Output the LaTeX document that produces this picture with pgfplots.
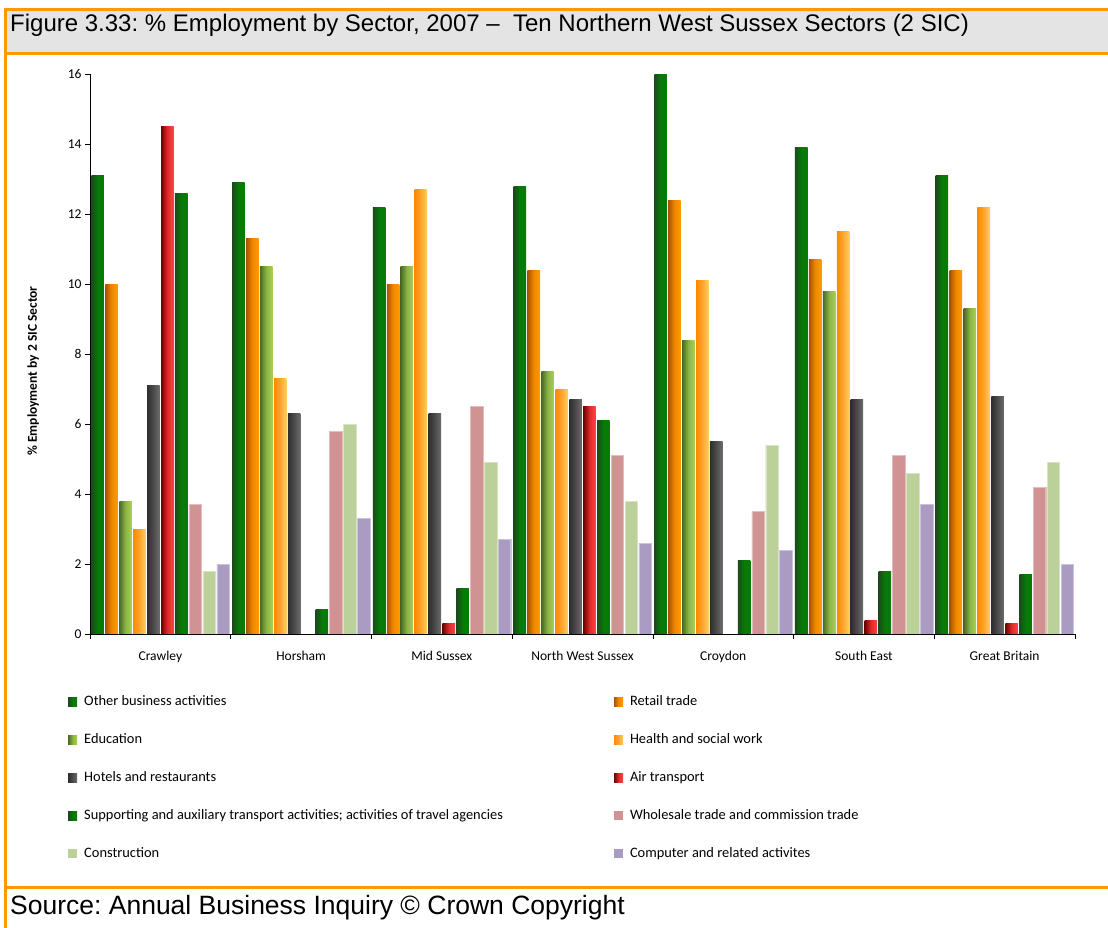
\documentclass[border=0pt]{standalone}
\usepackage{fontspec}
\setmainfont{Carlito}
\newfontfamily\arial{Liberation Sans}
\usepackage{pgfplots}
\usepackage{pgfplotstable}
\pgfplotsset{compat=1.18}
\frenchspacing
\definecolor{frameorange}{HTML}{FF9900}
\definecolor{titlegray}{HTML}{E4E4E4}
\definecolor{gA}{HTML}{1C4A1C}
\definecolor{gB}{HTML}{077A07}
\definecolor{oA}{HTML}{A85400}
\definecolor{oM}{HTML}{F08800}
\definecolor{oB}{HTML}{FF9A00}
\definecolor{eA}{HTML}{4A6A24}
\definecolor{eM}{HTML}{8CB545}
\definecolor{eB}{HTML}{A9CF55}
\definecolor{hA}{HTML}{FF8A00}
\definecolor{hM}{HTML}{FFA430}
\definecolor{hB}{HTML}{FFD060}
\definecolor{kA}{HTML}{2E2E2E}
\definecolor{kM}{HTML}{4C4C4C}
\definecolor{kB}{HTML}{6C6C6C}
\definecolor{rA}{HTML}{6E0000}
\definecolor{rM}{HTML}{E02A2A}
\definecolor{rB}{HTML}{FF4545}
\definecolor{wC}{HTML}{D09292}
\definecolor{cC}{HTML}{BCD19A}
\definecolor{pC}{HTML}{A99BC1}

\pgfplotstableread{
x   oba  ret  edu  hea  hot  air  sup  who  con  com
0.5 13.1 10.0 3.8  3.0  7.1  14.5 12.6 3.7  1.8  2.0
1.5 12.9 11.3 10.5 7.3  6.3  nan  0.7  5.8  6.0  3.3
2.5 12.2 10.0 10.5 12.7 6.3  0.3  1.3  6.5  4.9  2.7
3.5 12.8 10.4 7.5  7.0  6.7  6.5  6.1  5.1  3.8  2.6
4.5 16.0 12.4 8.4  10.1 5.5  nan  2.1  3.5  5.4  2.4
5.5 13.9 10.7 9.8  11.5 6.7  0.4  1.8  5.1  4.6  3.7
6.5 13.1 10.4 9.3  12.2 6.8  0.3  1.7  4.2  4.9  2.0
}\datatable

% one shaded bar per plot so that each bar carries its own gradient
% #6 = list of groups that have a bar
\newcommand{\gradbars}[6]{%
  \pgfplotsinvokeforeach{#6}{%
    \addplot[forget plot, draw=none, bar shift=#2, left color=#3, right color=#5, middle color=#4,
      restrict x to domain=##1.4:##1.6] table[x=x,y=#1]{\datatable};
  }%
}

\begin{document}
\begin{tikzpicture}[x=1pt,y=1pt]
\path[use as bounding box] (0,0) rectangle (1108,-928);
\fill[titlegray] (7,-11) rectangle (1108,-52);
\fill[frameorange] (4,-8) rectangle (1108,-11);
\fill[frameorange] (4,-52) rectangle (1108,-55);
\fill[frameorange] (4,-886) rectangle (1108,-889);
\fill[frameorange] (4,-8) rectangle (7,-928);
\node[anchor=base west, inner sep=0pt, font=\arial\fontsize{24}{26}\selectfont] at (10,-32) {Figure 3.33: \% Employment by Sector, 2007 –\ \ Ten Northern West Sussex Sectors (2 SIC)};
\node[anchor=base west, inner sep=0pt, font=\arial\fontsize{26.5}{29}\selectfont] at (10,-914) {Source: Annual Business Inquiry © Crown Copyright};

\begin{axis}[
  at={(90pt,-634pt)}, anchor=south west,
  scale only axis, width=985pt, height=560pt,
  xmin=0, xmax=7, ymin=0, ymax=16,
  axis on top,
  axis x line=bottom, axis y line=left,
  axis line style={-, black, line width=0.9pt},
  xtick={0.5,1.5,...,6.5},
  xticklabels={Crawley,Horsham,Mid Sussex,North West Sussex,Croydon,South East,Great Britain},
  major x tick style={draw=none},
  minor xtick={0,1,...,7},
  ytick={0,2,...,16},
  tick align=outside,
  tick style={black, line width=0.7pt},
  major tick length=5pt, minor tick length=5pt,
  ticklabel style={font=\fontsize{13.5}{15}\selectfont},
  xticklabel style={yshift=-9pt},
  /pgf/number format/assume math mode=true,
  ylabel={\% Employment by 2 SIC Sector},
  ylabel style={font=\bfseries\fontsize{13.5}{15}\selectfont, yshift=22pt, xshift=-17pt},
  ybar, bar width=0.089,
  legend columns=2,
  legend cell align=left,
  legend style={draw=none, fill=none, at={(axis description cs:-0.0223,-0.1065)}, anchor=north west, inner sep=0pt,
     font=\fontsize{14.4}{16}\selectfont, row sep=22.5pt,
     /tikz/every odd column/.append style={column sep=5pt},
     /tikz/every even column/.append style={column sep=109pt}},
  legend image code/.code={\fill[#1, draw=none] (0pt,-4.5pt) rectangle (9pt,4.5pt);},
]
\addlegendimage{left color=gA, right color=gB, middle color=gB}
\addlegendimage{left color=oA, right color=oB, middle color=oM}
\addlegendimage{left color=eA, right color=eB, middle color=eM}
\addlegendimage{left color=hA, right color=hB, middle color=hM}
\addlegendimage{left color=kA, right color=kB, middle color=kM}
\addlegendimage{left color=rA, right color=rB, middle color=rM}
\addlegendimage{left color=gA, right color=gB, middle color=gB}
\addlegendimage{fill=wC}
\addlegendimage{fill=cC}
\addlegendimage{fill=pC}
\gradbars{oba}{-0.4455}{gA}{gB}{gB}{0,...,6}
\gradbars{ret}{-0.3465}{oA}{oM}{oB}{0,...,6}
\gradbars{edu}{-0.2475}{eA}{eM}{eB}{0,...,6}
\gradbars{hea}{-0.1485}{hA}{hM}{hB}{0,...,6}
\gradbars{hot}{-0.0495}{kA}{kM}{kB}{0,...,6}
\gradbars{air}{0.0495}{rA}{rM}{rB}{0,2,3,5,6}
\gradbars{sup}{0.1485}{gA}{gB}{gB}{0,...,6}
\addplot[forget plot, draw=wC!60!white, line width=0.4pt, bar shift=0.2475, fill=wC] table[x=x,y=who]{\datatable};
\addplot[forget plot, draw=cC!60!white, line width=0.4pt, bar shift=0.3465, fill=cC] table[x=x,y=con]{\datatable};
\addplot[forget plot, draw=pC!60!white, line width=0.4pt, bar shift=0.4455, fill=pC] table[x=x,y=com]{\datatable};
\legend{Other business activities, Retail trade, Education, Health and social work, Hotels and restaurants, Air transport, Supporting and auxiliary transport activities; activities of travel agencies, Wholesale trade and commission trade, Construction, Computer and related activites}
\end{axis}
\end{tikzpicture}
\end{document}
